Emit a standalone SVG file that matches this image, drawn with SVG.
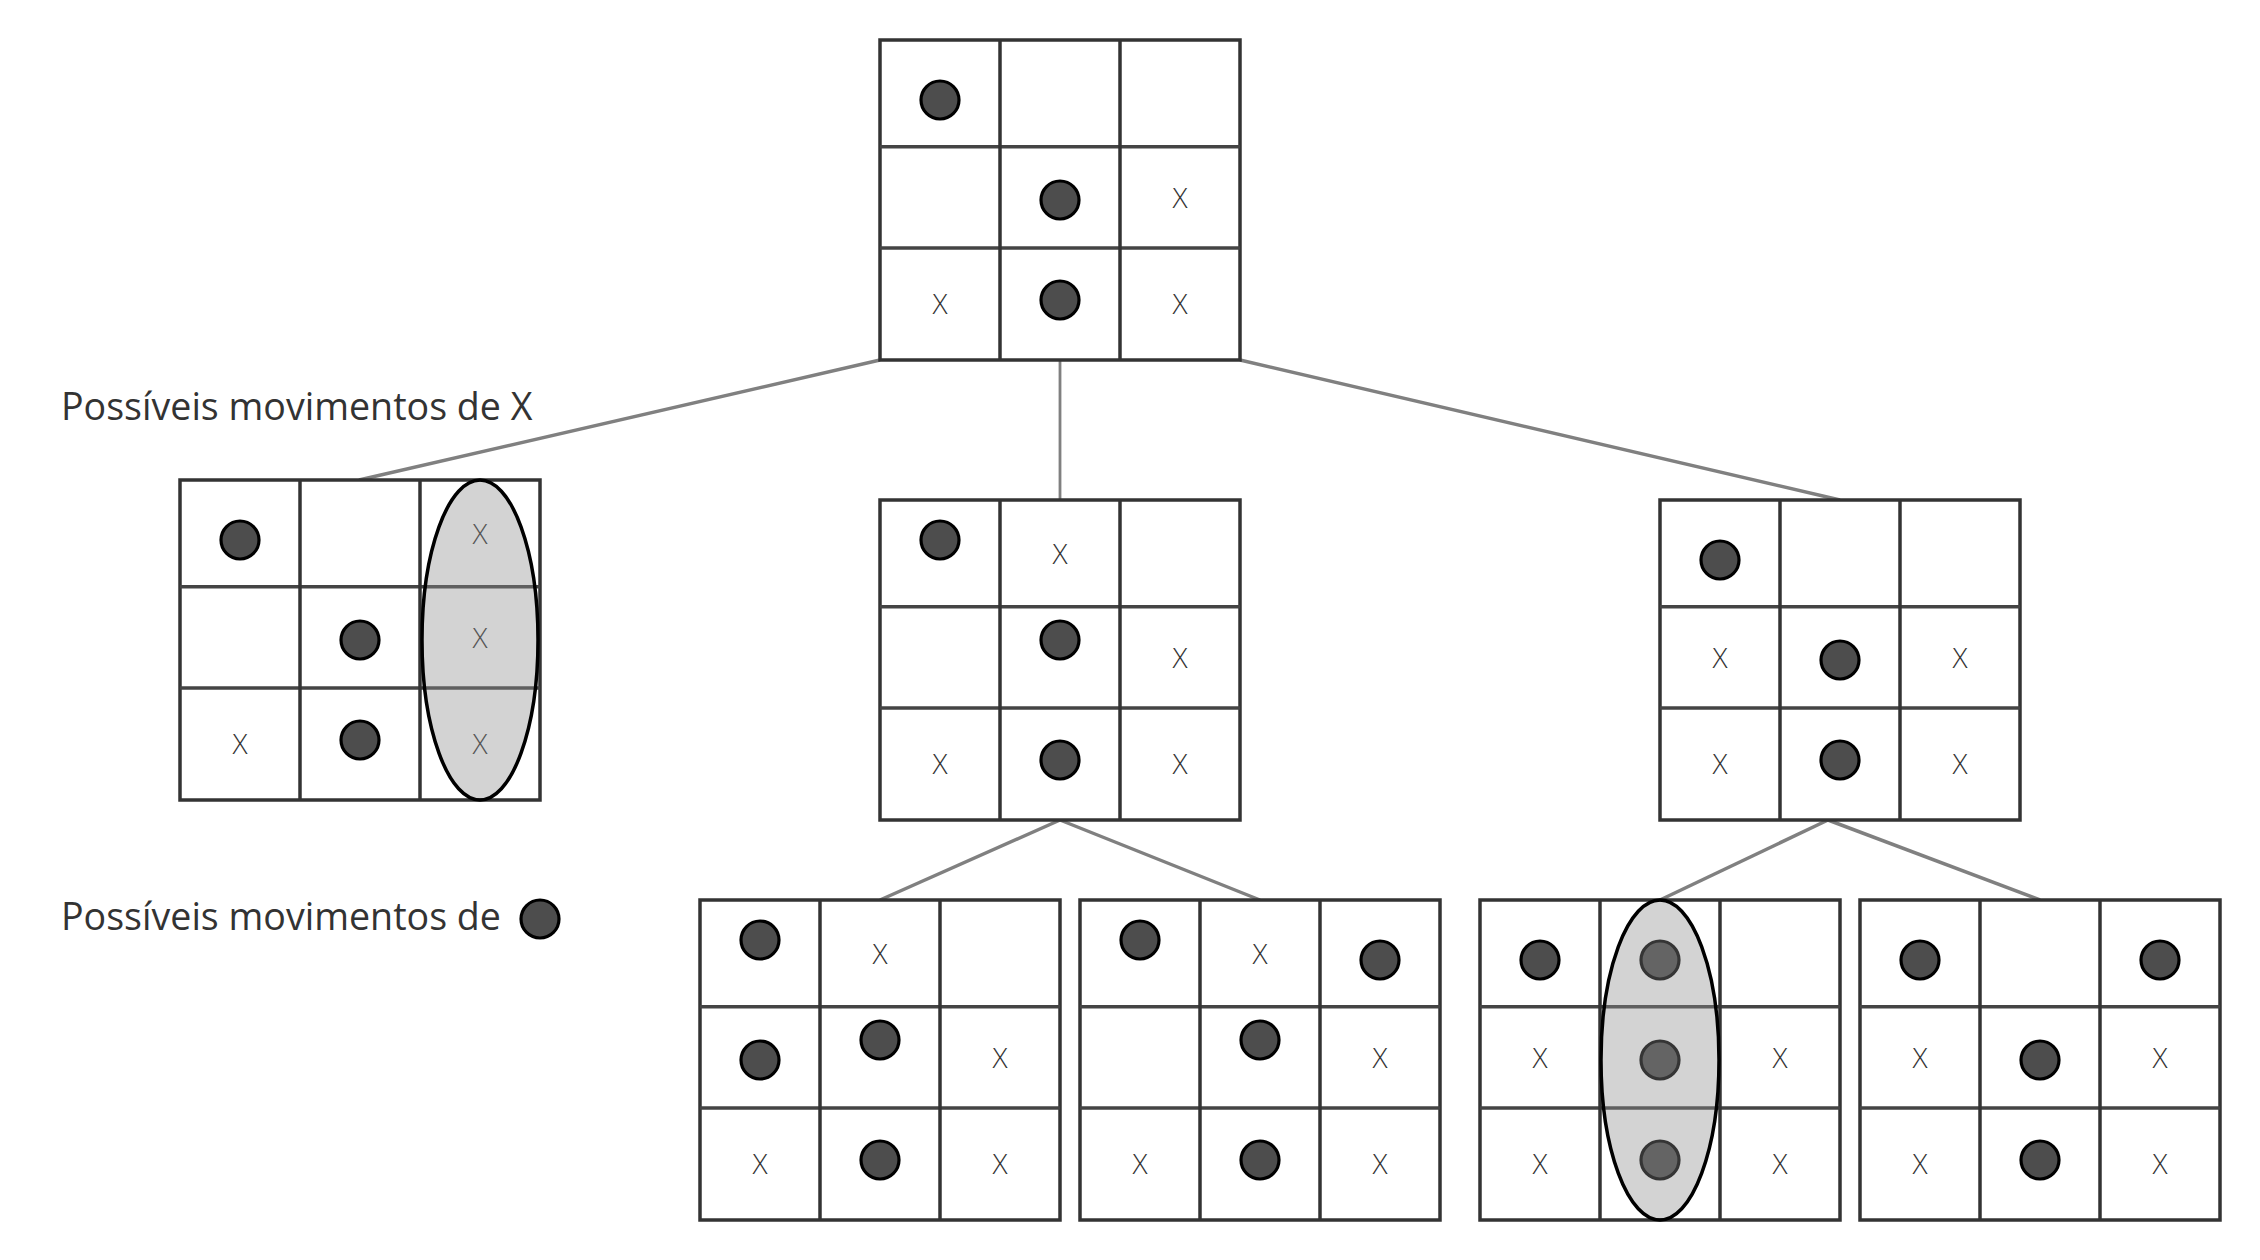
<svg xmlns="http://www.w3.org/2000/svg" xmlns:xlink="http://www.w3.org/1999/xlink" width="2260" height="1260" viewBox="0 0 2260 1260">
<style>
.bg{fill:#ffffff}
.frame{fill:#ffffff;stroke:#333333;stroke-width:3.5}
.vl{stroke:#333333;stroke-width:3.5}
.hl{stroke:#444444;stroke-width:3.5}
.o{fill:#4d4d4d;stroke:#000000;stroke-width:3.2}
.x{font-family:"Open Sans","Liberation Sans",sans-serif;font-size:28px;font-weight:300;fill:#333333;text-anchor:middle}
.lbl{font-family:"Open Sans","Liberation Sans",sans-serif;font-size:37.6px;fill:#333333}
.conn{stroke:#808080;stroke-width:3.5;fill:none}
.hi{fill:#8c8c8c;fill-opacity:0.38;stroke:#000000;stroke-width:3.5}
</style>
<defs>
<g id="grid">
<rect class="frame" x="0" y="0" width="360" height="320"/>
<line class="hl" x1="0" y1="106.7" x2="360" y2="106.7"/>
<line class="hl" x1="0" y1="208" x2="360" y2="208"/>
<line class="vl" x1="120" y1="0" x2="120" y2="320"/>
<line class="vl" x1="240" y1="0" x2="240" y2="320"/>
</g>
</defs>
<rect class="bg" x="0" y="0" width="2260" height="1260"/>

<g id="connectors">
<line class="conn" x1="880" y1="360" x2="359" y2="480"/>
<line class="conn" x1="1060" y1="360" x2="1060" y2="500" style="stroke-width:2.8"/>
<line class="conn" x1="1240" y1="360" x2="1840" y2="500"/>
<line class="conn" x1="1060" y1="820" x2="880" y2="900"/>
<line class="conn" x1="1060" y1="820" x2="1260" y2="900"/>
<line class="conn" x1="1828" y1="820" x2="1660" y2="900"/>
<line class="conn" x1="1828" y1="820" x2="2040" y2="900"/>
</g>

<g id="label-x">
<text class="lbl" x="61" y="420">Possíveis movimentos de X</text>
</g>
<g id="label-o">
<text class="lbl" x="61" y="930">Possíveis movimentos de</text>
<circle class="o" cx="540" cy="919" r="19"/>
</g>

<g id="root" transform="translate(880,40)">
<use xlink:href="#grid"/>
<circle class="o" cx="60" cy="60" r="19"/>
<circle class="o" cx="180" cy="160" r="19"/>
<circle class="o" cx="180" cy="260" r="19"/>
<text class="x" x="300" y="168">X</text>
<text class="x" x="60" y="274">X</text>
<text class="x" x="300" y="274">X</text>
</g>

<g id="x-move-left" transform="translate(180,480)">
<use xlink:href="#grid"/>
<circle class="o" cx="60" cy="60" r="19"/>
<circle class="o" cx="180" cy="160" r="19"/>
<circle class="o" cx="180" cy="260" r="19"/>
<text class="x" x="300" y="64">X</text>
<text class="x" x="300" y="168">X</text>
<text class="x" x="60" y="274">X</text>
<text class="x" x="300" y="274">X</text>
<ellipse class="hi" cx="300" cy="160" rx="58" ry="160"/>
</g>

<g id="x-move-middle" transform="translate(880,500)">
<use xlink:href="#grid"/>
<circle class="o" cx="60" cy="40" r="19"/>
<circle class="o" cx="180" cy="140" r="19"/>
<circle class="o" cx="180" cy="260" r="19"/>
<text class="x" x="180" y="64">X</text>
<text class="x" x="300" y="168">X</text>
<text class="x" x="60" y="274">X</text>
<text class="x" x="300" y="274">X</text>
</g>

<g id="x-move-right" transform="translate(1660,500)">
<use xlink:href="#grid"/>
<circle class="o" cx="60" cy="60" r="19"/>
<circle class="o" cx="180" cy="160" r="19"/>
<circle class="o" cx="180" cy="260" r="19"/>
<text class="x" x="60" y="168">X</text>
<text class="x" x="300" y="168">X</text>
<text class="x" x="60" y="274">X</text>
<text class="x" x="300" y="274">X</text>
</g>

<g id="o-move-1" transform="translate(700,900)">
<use xlink:href="#grid"/>
<circle class="o" cx="60" cy="40" r="19"/>
<circle class="o" cx="60" cy="160" r="19"/>
<circle class="o" cx="180" cy="140" r="19"/>
<circle class="o" cx="180" cy="260" r="19"/>
<text class="x" x="180" y="64">X</text>
<text class="x" x="300" y="168">X</text>
<text class="x" x="60" y="274">X</text>
<text class="x" x="300" y="274">X</text>
</g>

<g id="o-move-2" transform="translate(1080,900)">
<use xlink:href="#grid"/>
<circle class="o" cx="60" cy="40" r="19"/>
<circle class="o" cx="300" cy="60" r="19"/>
<circle class="o" cx="180" cy="140" r="19"/>
<circle class="o" cx="180" cy="260" r="19"/>
<text class="x" x="180" y="64">X</text>
<text class="x" x="300" y="168">X</text>
<text class="x" x="60" y="274">X</text>
<text class="x" x="300" y="274">X</text>
</g>

<g id="o-move-3" transform="translate(1480,900)">
<use xlink:href="#grid"/>
<circle class="o" cx="60" cy="60" r="19"/>
<circle class="o" cx="180" cy="60" r="19"/>
<circle class="o" cx="180" cy="160" r="19"/>
<circle class="o" cx="180" cy="260" r="19"/>
<text class="x" x="60" y="168">X</text>
<text class="x" x="300" y="168">X</text>
<text class="x" x="60" y="274">X</text>
<text class="x" x="300" y="274">X</text>
<ellipse class="hi" cx="180" cy="160" rx="59" ry="160"/>
</g>

<g id="o-move-4" transform="translate(1860,900)">
<use xlink:href="#grid"/>
<circle class="o" cx="60" cy="60" r="19"/>
<circle class="o" cx="300" cy="60" r="19"/>
<circle class="o" cx="180" cy="160" r="19"/>
<circle class="o" cx="180" cy="260" r="19"/>
<text class="x" x="60" y="168">X</text>
<text class="x" x="300" y="168">X</text>
<text class="x" x="60" y="274">X</text>
<text class="x" x="300" y="274">X</text>
</g>
</svg>
